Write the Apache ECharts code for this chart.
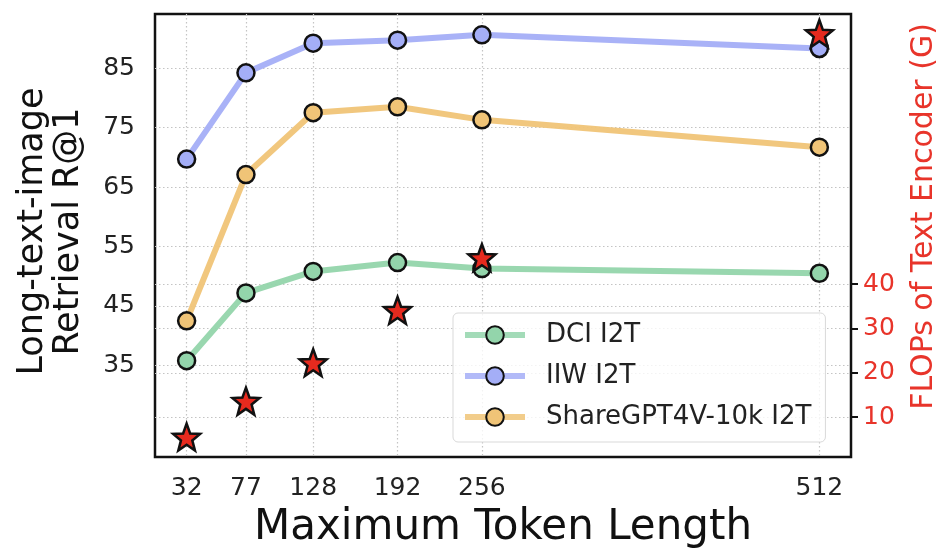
<!DOCTYPE html>
<html>
<head>
<meta charset="utf-8">
<script src="https://cdn.jsdelivr.net/npm/echarts@6/dist/echarts.min.js"></script>
<style>
  html, body { margin: 0; padding: 0; background: #fff; }
  #chart { width: 951px; height: 556px; }
</style>
</head>
<body>
<div id="chart"></div>
<script>
// Maximum token length of the text encoder (x positions)
const tokenLengths = [32, 77, 128, 192, 256, 512];
const xTicks = [32, 77, 128, 192, 256, 512];

// Long-text-image retrieval R@1 per benchmark
const dciI2T = [35.8, 47.2, 50.8, 52.3, 51.3, 50.5];
const iiwI2T = [69.7, 84.2, 89.2, 89.7, 90.6, 88.3];
const shareGptI2T = [42.5, 67.1, 77.5, 78.5, 76.3, 71.7];

// FLOPs of the text encoder (G)
const textEncoderFlops = [5.5, 13.6, 22.3, 34.1, 46.0, 96.6];

const leftTicks = [35, 45, 55, 65, 75, 85];
const rightTicks = [10, 20, 30, 40];

const FONT = "'DejaVu Sans', 'Liberation Sans', sans-serif";
const RED = '#e8342a';

// five-pointed star outline used for the FLOPs markers
function starPath(inner) {
  const pts = [];
  for (let i = 0; i < 10; i++) {
    const r = i % 2 === 0 ? 1 : inner;
    const a = -Math.PI / 2 + i * Math.PI / 5;
    pts.push((r * Math.cos(a)).toFixed(4) + ' ' + (r * Math.sin(a)).toFixed(4));
  }
  return 'path://M' + pts.join(' L') + ' Z';
}
const STAR = starPath(0.42);

function pairs(xs, ys) {
  return xs.map((x, i) => [x, ys[i]]);
}

const gridLine = { show: true, lineStyle: { color: '#c4c4c4', width: 1.2, type: [1.5, 2.5] } };

function lineSeries(name, values, color) {
  return {
    name: name,
    type: 'line',
    yAxisIndex: 0,
    data: pairs(tokenLengths, values),
    symbol: 'circle',
    symbolSize: 17,
    lineStyle: { color: color, width: 6, opacity: 0.95 },
    itemStyle: { color: color, borderColor: '#111', borderWidth: 2.5 },
    emphasis: { disabled: true },
    z: 3
  };
}

const chart = echarts.init(document.getElementById('chart'), null, { renderer: 'canvas' });
chart.setOption({
  animation: false,
  backgroundColor: '#fff',
  textStyle: { fontFamily: FONT },
  grid: {
    left: 155, right: 100, top: 14, bottom: 99,
    show: true, borderColor: '#111', borderWidth: 2.5, backgroundColor: 'transparent'
  },
  legend: {
    orient: 'vertical',
    left: 453, top: 313,
    padding: [9, 14, 12, 9],
    itemWidth: 60, itemHeight: 22, itemGap: 15,
    backgroundColor: 'rgba(255,255,255,0.8)',
    borderColor: '#d9d9d9', borderWidth: 1, borderRadius: 5,
    lineStyle: { width: 6, opacity: 0.85 },
    textStyle: { fontFamily: FONT, fontSize: 26, color: '#222', lineHeight: 26, padding: [0, 0, 0, 16] },
    data: ['DCI I2T', 'IIW I2T', 'ShareGPT4V-10k I2T']
  },
  xAxis: {
    type: 'value',
    min: 8, max: 536,
    name: 'Maximum Token Length',
    nameLocation: 'middle',
    nameGap: 50,
    nameTextStyle: { fontFamily: FONT, fontSize: 42, color: '#111', verticalAlign: 'top' },
    axisLine: { show: false },
    axisTick: { show: false, customValues: xTicks },
    axisLabel: { customValues: xTicks, fontFamily: FONT, fontSize: 25, color: '#222', margin: 19 },
    splitLine: gridLine
  },
  yAxis: [
    {
      type: 'value',
      min: 19.6, max: 94.1,
      name: 'Long-text-image\nRetrieval R@1',
      nameLocation: 'middle',
      nameRotate: 90,
      nameGap: 68,
      nameTextStyle: { fontFamily: FONT, fontSize: 35, color: '#111', lineHeight: 36, align: 'center', padding: [0, 0, 0, 8] },
      axisLine: { show: false },
      axisTick: { show: false, customValues: leftTicks },
      axisLabel: { customValues: leftTicks, fontFamily: FONT, fontSize: 25, color: '#222', margin: 20 },
      splitLine: gridLine
    },
    {
      type: 'value',
      position: 'right',
      min: 1, max: 101,
      name: 'FLOPs of Text Encoder (G)',
      nameLocation: 'middle',
      nameRotate: 90,
      nameGap: 58,
      nameTextStyle: { fontFamily: FONT, fontSize: 30, color: RED, padding: [0, 0, 0, 38] },
      axisLine: { show: false },
      axisTick: { show: true, customValues: rightTicks, length: 7, lineStyle: { color: '#111', width: 2 } },
      axisLabel: { customValues: rightTicks, fontFamily: FONT, fontSize: 25, color: RED, margin: 12 },
      splitLine: gridLine
    }
  ],
  series: [
    lineSeries('DCI I2T', dciI2T, '#93d5ab'),
    lineSeries('IIW I2T', iiwI2T, '#a4aef7'),
    lineSeries('ShareGPT4V-10k I2T', shareGptI2T, '#f0c477'),
    {
      name: 'FLOPs',
      type: 'scatter',
      yAxisIndex: 1,
      data: pairs(tokenLengths, textEncoderFlops),
      symbol: STAR,
      symbolSize: 27,
      itemStyle: { color: '#e62a1e', borderColor: '#111', borderWidth: 2.5, opacity: 1 },
      emphasis: { disabled: true },
      z: 5
    }
  ]
});
</script>
</body>
</html>
